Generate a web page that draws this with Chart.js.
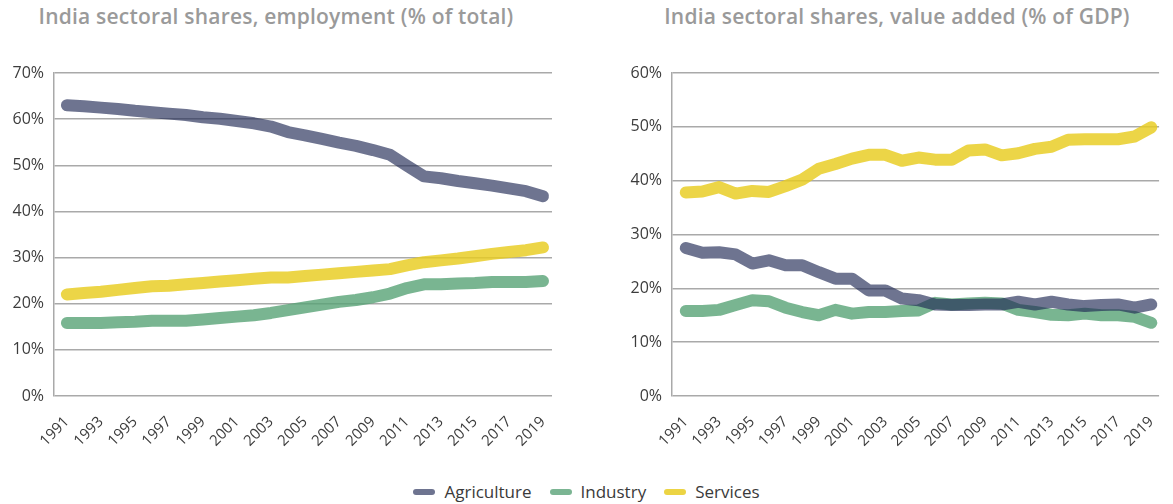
<!DOCTYPE html>
<html>
<head>
<meta charset="utf-8">
<script src="https://cdn.jsdelivr.net/npm/chart.js@4/dist/chart.umd.min.js"></script>
<style>
  html, body { margin: 0; padding: 0; background: #ffffff; }
  body { width: 1173px; height: 504px; position: relative; overflow: hidden; font-family: "Open Sans", Lato, sans-serif; }
  .title { position: absolute; top: 2px; font-weight: 600; font-size: 21px; color: #9a9a9a; white-space: nowrap; transform: translateX(-50%); letter-spacing: 0.2px; }
  .wrap { position: absolute; top: 0; }
  #legend { position: absolute; top: 480px; left: 0; width: 1173px; text-align: center; font-size: 17px; color: #3a3a3a; }
  #legend span.item { display: inline-block; margin: 0 9px; }
  #legend span.sw { display: inline-block; width: 22px; height: 6px; border-radius: 3px; vertical-align: middle; margin-right: 9px; position: relative; top: -1px; }
</style>
</head>
<body>
<div class="title" style="left:276px">India sectoral shares, employment (% of total)</div>
<div class="title" style="left:897px">India sectoral shares, value added (% of GDP)</div>
<div class="wrap" style="left:0;width:566px;height:470px"><canvas id="emp"></canvas></div>
<div class="wrap" style="left:600px;width:573px;height:470px"><canvas id="va"></canvas></div>
<div id="legend"></div>
<script>
// Years on the horizontal axis
const years = [1991,1992,1993,1994,1995,1996,1997,1998,1999,2000,2001,2002,2003,2004,2005,
               2006,2007,2008,2009,2010,2011,2012,2013,2014,2015,2016,2017,2018,2019];
const yearTicks = [1991,1993,1995,1997,1999,2001,2003,2005,2007,2009,2011,2013,2015,2017,2019];

// Employment shares, % of total
const empAgriculture = [63.0,62.8,62.5,62.2,61.8,61.5,61.2,60.9,60.4,60.1,59.6,59.1,58.4,57.2,56.5,
                        55.7,54.9,54.2,53.3,52.3,49.9,47.6,47.2,46.6,46.1,45.6,45.0,44.4,43.3];
const empIndustry    = [15.8,15.8,15.8,16.0,16.1,16.3,16.3,16.3,16.6,16.9,17.2,17.5,18.0,18.6,19.2,
                        19.8,20.4,20.8,21.4,22.2,23.4,24.2,24.2,24.4,24.5,24.7,24.7,24.7,24.9];
const empServices    = [22.0,22.3,22.6,23.0,23.4,23.8,23.9,24.2,24.5,24.8,25.1,25.4,25.7,25.7,26.0,
                        26.3,26.6,26.9,27.2,27.5,28.3,29.0,29.4,29.8,30.3,30.8,31.2,31.6,32.2];

// Value added shares, % of GDP
const vaAgriculture = [27.5,26.6,26.7,26.3,24.6,25.2,24.3,24.3,23.0,21.8,21.8,19.6,19.6,18.1,17.8,
                       17.0,16.9,16.9,17.0,17.0,17.5,17.0,17.5,17.0,16.7,16.9,17.0,16.4,17.0];
const vaIndustry    = [15.8,15.8,16.0,16.9,17.8,17.6,16.4,15.6,15.0,16.0,15.3,15.6,15.6,15.8,15.9,
                       17.3,17.0,17.2,17.3,17.2,16.0,15.6,15.1,15.0,15.3,15.0,15.0,14.7,13.6];
const vaServices    = [37.8,38.0,38.8,37.6,38.1,37.9,39.0,40.2,42.2,43.1,44.1,44.8,44.8,43.7,44.3,
                       43.9,43.9,45.6,45.8,44.7,45.1,45.9,46.3,47.6,47.7,47.7,47.7,48.2,49.9];

const seriesNames = ['Agriculture','Industry','Services'];
const lineColors  = ['rgba(32,42,85,0.65)','rgba(88,162,118,0.8)','rgba(232,204,30,0.82)'];
const swatchColors = ['#6e7490','#7bb593','#ecd444'];

const FONT = '"Open Sans", Lato, sans-serif';
const GRID = '#a9a9a9';

function pts(arr) { return years.map((yr, i) => ({ x: yr, y: arr[i] })); }

function makeChart(id, series, yMax, xMin, xMax, yWidth, padRight) {
  return new Chart(document.getElementById(id), {
    type: 'line',
    data: {
      datasets: series.map((arr, i) => ({
        label: seriesNames[i],
        data: pts(arr),
        borderColor: lineColors[i],
        backgroundColor: lineColors[i],
        borderWidth: 12,
        borderCapStyle: 'round',
        borderJoinStyle: 'round',
        pointRadius: 0,
        tension: 0,
        fill: false
      }))
    },
    options: {
      responsive: true,
      maintainAspectRatio: false,
      animation: false,
      layout: { padding: { top: 73, right: padRight, bottom: 0, left: 0 } },
      plugins: { legend: { display: false }, tooltip: { enabled: false } },
      scales: {
        x: {
          type: 'linear',
          min: xMin,
          max: xMax,
          grid: { display: false },
          border: { display: false },
          afterBuildTicks: s => { s.ticks = yearTicks.map(v => ({ value: v })); },
          afterFit: s => { s.height = 74; },
          ticks: {
            autoSkip: false,
            minRotation: 45,
            maxRotation: 45,
            padding: 9,
            color: '#3c3c3c',
            font: { family: FONT, size: 15 },
            callback: v => String(v)
          }
        },
        y: {
          min: 0,
          max: yMax,
          afterFit: s => { s.width = yWidth; },
          grid: { color: GRID, lineWidth: 1.5, drawTicks: false },
          border: { display: true, color: GRID, width: 1.5 },
          ticks: {
            stepSize: 10,
            padding: 10,
            color: '#3c3c3c',
            font: { family: FONT, size: 16 },
            callback: v => v + '%'
          }
        }
      }
    }
  });
}

makeChart('emp', [empAgriculture, empIndustry, empServices], 70, 1990.24, 2019.53, 54, 14);
makeChart('va',  [vaAgriculture, vaIndustry, vaServices],    60, 1990.17, 2019.47, 72, 1);

document.getElementById('legend').innerHTML = seriesNames.map((n, i) =>
  '<span class="item"><span class="sw" style="background:' + swatchColors[i] + '"></span>' + n + '</span>'
).join('');
</script>
</body>
</html>
